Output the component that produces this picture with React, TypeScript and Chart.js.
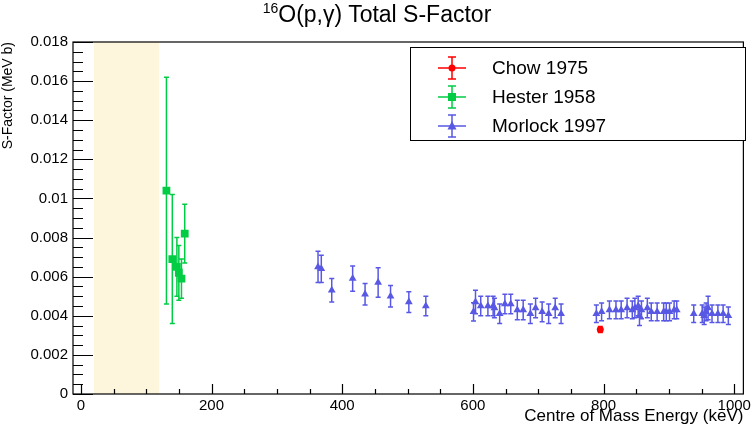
import { useEffect, useRef } from 'react'
import { Chart, registerables, type ChartConfiguration, type Plugin } from 'chart.js'

Chart.register(...registerables)

const FONT = '"Liberation Sans", Arial, Helvetica, sans-serif'

// Chow 1975
const chowE = [795]
const chowS = [0.0033]
const chowErr = [0.00015]

// Hester 1958
const hesterE = [131, 140, 147, 150, 154, 159]
const hesterS = [0.0104, 0.0069, 0.0065, 0.0062, 0.0059, 0.0082]
const hesterErr = [0.0058, 0.0033, 0.0015, 0.0014, 0.0010, 0.0015]

// Morlock 1997
const morlockE = [
  363, 368, 384, 416, 435, 455, 474, 502, 528,
  601, 604, 612, 623, 631, 633, 641, 649, 658, 668, 677, 688, 696, 706, 716, 726, 735,
  789, 797, 809, 819, 827, 836, 844, 848, 853, 855, 858, 867, 873, 882, 892, 896, 901, 908, 912,
  938, 951, 954, 957, 960, 966, 975, 983, 991,
]
const morlockS = [
  0.0065, 0.0064, 0.0053, 0.0059, 0.0051, 0.0057, 0.0050, 0.0047, 0.0045,
  0.0042, 0.0047, 0.0045, 0.0045, 0.0045, 0.0044, 0.0041, 0.0046, 0.0046, 0.0043, 0.0043, 0.0041, 0.0044, 0.0042, 0.0041, 0.0044, 0.0041,
  0.0041, 0.0042, 0.0043, 0.0043, 0.0043, 0.0044, 0.0043, 0.0044, 0.0045, 0.0040, 0.0043, 0.0044, 0.0042, 0.0042, 0.0042, 0.0042, 0.0042, 0.0043, 0.0043,
  0.0041, 0.0041, 0.0040, 0.0042, 0.0044, 0.0041, 0.0041, 0.0041, 0.0040,
]
const morlockErr = [
  0.0008, 0.0007, 0.0006, 0.00065, 0.00055, 0.00075, 0.00055, 0.00053, 0.0005,
  0.00047, 0.0006, 0.0005, 0.0005, 0.0005, 0.0005, 0.0005, 0.0005, 0.0005, 0.0005, 0.0005, 0.0005, 0.0005, 0.0005, 0.0005, 0.0005, 0.0005,
  0.00045, 0.00045, 0.00045, 0.00045, 0.00045, 0.0005, 0.00045, 0.0005, 0.0005, 0.0005, 0.00045, 0.0005, 0.00045, 0.00045, 0.00045, 0.00045, 0.00045, 0.00045, 0.00045,
  0.00045, 0.00045, 0.00045, 0.00045, 0.0006, 0.00045, 0.00045, 0.00045, 0.00045,
]

const xTicks = [0, 200, 400, 600, 800, 1000]
const yTicks = [0, 0.002, 0.004, 0.006, 0.008, 0.01, 0.012, 0.014, 0.016, 0.018]
const xRange = [-12, 1014]
const yRange = [0, 0.018]
const shadedBand = [20, 120]

const toPoints = (xs: number[], ys: number[]) => xs.map((x, i) => ({ x, y: ys[i] }))

const rootStyle: Plugin<'scatter'> = {
  id: 'rootStyle',
  beforeDatasetsDraw(chart) {
    const { ctx, chartArea: a, scales: { x, y } } = chart
    ctx.save()
    // shaded energy window
    const b0 = x.getPixelForValue(shadedBand[0])
    const b1 = x.getPixelForValue(shadedBand[1])
    ctx.fillStyle = '#fdf6dc'
    ctx.fillRect(b0, a.top, b1 - b0, a.bottom - a.top)
    // error bars
    chart.data.datasets.forEach((ds: any) => {
      ctx.strokeStyle = ds.borderColor
      ctx.lineWidth = 1.5
      ds.data.forEach((p: any, j: number) => {
        const e = ds.errors[j]
        const px = x.getPixelForValue(p.x)
        const top = y.getPixelForValue(p.y + e)
        const bot = y.getPixelForValue(p.y - e)
        ctx.beginPath()
        ctx.moveTo(px, top); ctx.lineTo(px, bot)
        ctx.moveTo(px - 2.5, top); ctx.lineTo(px + 2.5, top)
        ctx.moveTo(px - 2.5, bot); ctx.lineTo(px + 2.5, bot)
        ctx.stroke()
      })
    })
    ctx.restore()
  },
  afterDraw(chart) {
    const { ctx, chartArea: a, scales: { x, y } } = chart
    ctx.save()
    ctx.strokeStyle = '#000'
    ctx.lineWidth = 1.2
    ctx.strokeRect(a.left, a.top, a.right - a.left, a.bottom - a.top)

    // tick marks inside the frame, ROOT style
    ctx.beginPath()
    for (let v = yRange[0]; v <= yRange[1] + 1e-9; v += 0.0005) {
      const major = yTicks.some(t => Math.abs(t - v) < 1e-9)
      const py = Math.round(y.getPixelForValue(v)) + 0.5
      ctx.moveTo(a.left, py)
      ctx.lineTo(a.left + (major ? 20 : 10), py)
    }
    for (let v = 0; v <= xRange[1]; v += 50) {
      const major = xTicks.includes(v)
      const px = Math.round(x.getPixelForValue(v)) + 0.5
      ctx.moveTo(px, a.bottom)
      ctx.lineTo(px, a.bottom - (major ? 10 : 5))
    }
    ctx.stroke()

    // legend box
    const L = 410, T = 47, W = 335, H = 93
    ctx.fillStyle = '#fff'
    ctx.fillRect(L, T, W, H)
    ctx.lineWidth = 1
    ctx.strokeRect(L + 0.5, T + 0.5, W, H)
    ctx.font = `19px ${FONT}`
    ctx.textBaseline = 'middle'
    chart.data.datasets.forEach((ds: any, i: number) => {
      const cy = T + 21 + i * 29
      const cx = 452
      ctx.strokeStyle = ds.borderColor
      ctx.fillStyle = ds.backgroundColor
      ctx.lineWidth = 1.5
      ctx.beginPath()
      ctx.moveTo(cx - 14, cy); ctx.lineTo(cx + 14, cy)
      ctx.moveTo(cx, cy - 11); ctx.lineTo(cx, cy + 11)
      ctx.moveTo(cx - 4, cy - 11); ctx.lineTo(cx + 4, cy - 11)
      ctx.moveTo(cx - 4, cy + 11); ctx.lineTo(cx + 4, cy + 11)
      ctx.stroke()
      ctx.beginPath()
      if (ds.pointStyle === 'circle') {
        ctx.arc(cx, cy, 3.5, 0, Math.PI * 2)
      } else if (ds.pointStyle === 'rect') {
        ctx.rect(cx - 4, cy - 4, 8, 8)
      } else {
        ctx.moveTo(cx, cy - 5)
        ctx.lineTo(cx + 4.5, cy + 3.5)
        ctx.lineTo(cx - 4.5, cy + 3.5)
        ctx.closePath()
      }
      ctx.fill()
      ctx.fillStyle = '#000'
      ctx.fillText(ds.label, 492, cy + 1)
    })
    ctx.restore()
  },
}

function makeConfig(): ChartConfiguration<'scatter'> {
  return {
    type: 'scatter',
    data: {
      datasets: [
        {
          label: 'Chow 1975',
          data: toPoints(chowE, chowS),
          errors: chowErr,
          pointStyle: 'circle',
          pointRadius: 3.5,
          backgroundColor: '#ff0000',
          borderColor: '#ff0000',
          borderWidth: 0,
        } as any,
        {
          label: 'Hester 1958',
          data: toPoints(hesterE, hesterS),
          errors: hesterErr,
          pointStyle: 'rect',
          pointRadius: 5.5,
          backgroundColor: 'rgb(0,204,68)',
          borderColor: 'rgb(0,204,68)',
          borderWidth: 0,
        } as any,
        {
          label: 'Morlock 1997',
          data: toPoints(morlockE, morlockS),
          errors: morlockErr,
          pointStyle: 'triangle',
          pointRadius: 4.5,
          backgroundColor: 'rgb(88,88,228)',
          borderColor: 'rgb(88,88,228)',
          borderWidth: 0,
        } as any,
      ],
    },
    options: {
      responsive: true,
      maintainAspectRatio: false,
      animation: false,
      layout: { padding: { top: 42, right: 6, left: 0, bottom: 0 } },
      plugins: {
        legend: { display: false },
        tooltip: { enabled: false },
      },
      scales: {
        x: {
          type: 'linear',
          min: xRange[0],
          max: xRange[1],
          grid: { display: false, drawTicks: false },
          border: { display: false },
          afterBuildTicks: s => { s.ticks = xTicks.map(value => ({ value })) },
          afterFit: s => { s.height = 33 },
          ticks: {
            color: '#000',
            padding: 3,
            maxRotation: 0,
            font: { family: FONT, size: 15 },
            callback: v => String(v),
          },
          title: {
            display: true,
            text: 'Centre of Mass Energy (keV)',
            align: 'end',
            color: '#000',
            padding: { top: 0, bottom: 0 },
            font: { family: FONT, size: 17 },
          },
        },
        y: {
          type: 'linear',
          min: yRange[0],
          max: yRange[1],
          grid: { display: false, drawTicks: false },
          border: { display: false },
          afterBuildTicks: s => { s.ticks = yTicks.map(value => ({ value })) },
          afterFit: s => { s.width = 73 },
          ticks: {
            color: '#000',
            padding: 5,
            font: { family: FONT, size: 15 },
            callback: v => String(Number(Number(v).toFixed(3))),
          },
          title: {
            display: true,
            text: 'S-Factor (MeV b)',
            align: 'end',
            color: '#000',
            padding: { top: 0, bottom: 0 },
            font: { family: FONT, size: 14 },
          },
        },
      },
    },
    plugins: [rootStyle],
  }
}

export default function App() {
  const ref = useRef<HTMLCanvasElement>(null)

  useEffect(() => {
    if (!ref.current) return
    const chart = new Chart(ref.current, makeConfig())
    return () => chart.destroy()
  }, [])

  return (
    <div style={{ position: 'absolute', left: 0, top: 0, width: 754, height: 427, background: '#fff' }}>
      <canvas ref={ref} />
      <div
        style={{
          position: 'absolute', top: 1, left: 0, width: '100%', textAlign: 'center',
          fontFamily: FONT, fontSize: 23, lineHeight: '26px', color: '#000',
        }}
      >
        <span style={{ fontSize: 14, position: 'relative', top: -9 }}>16</span>O(p,γ) Total S-Factor
      </div>
    </div>
  )
}
